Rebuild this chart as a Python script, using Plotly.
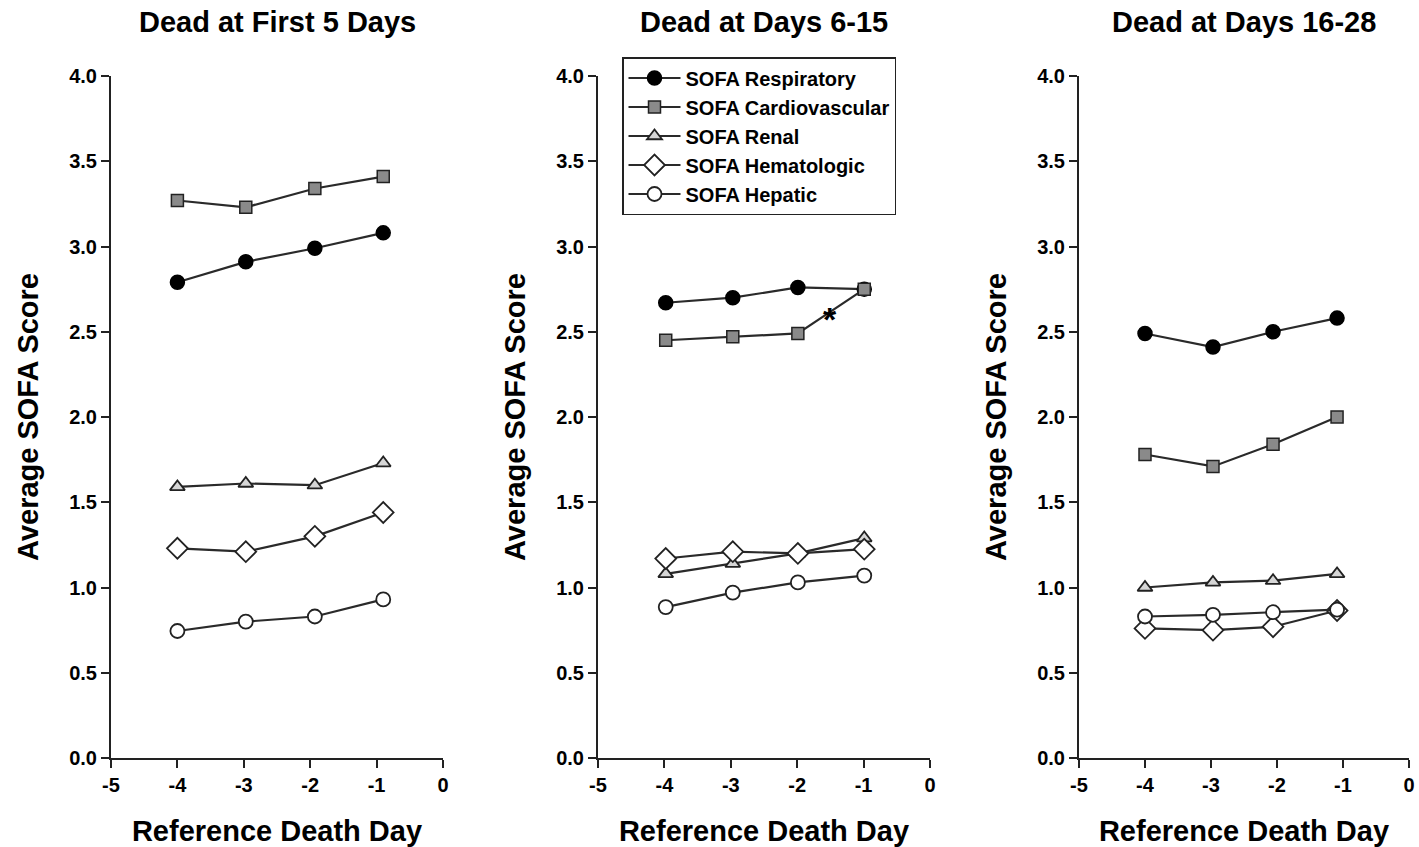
import plotly.graph_objects as go

# ---- data ----
panel_titles = ["Dead at First 5 Days", "Dead at Days 6-15", "Dead at Days 16-28"]
series_names = ["SOFA Respiratory", "SOFA Cardiovascular", "SOFA Renal",
                "SOFA Hematologic", "SOFA Hepatic"]

days_p1 = [-4, -2.97, -1.93, -0.9]
days_p2 = [-3.98, -2.97, -1.99, -0.99]
days_p3 = [-4, -2.97, -2.06, -1.09]

resp_p1 = [2.79, 2.91, 2.99, 3.08]
cardio_p1 = [3.27, 3.23, 3.34, 3.41]
renal_p1 = [1.59, 1.61, 1.60, 1.73]
hema_p1 = [1.23, 1.21, 1.30, 1.44]
hepa_p1 = [0.745, 0.80, 0.83, 0.93]

resp_p2 = [2.67, 2.70, 2.76, 2.75]
cardio_p2 = [2.45, 2.47, 2.49, 2.75]
renal_p2 = [1.08, 1.14, 1.20, 1.29]
hema_p2 = [1.17, 1.21, 1.20, 1.225]
hepa_p2 = [0.885, 0.97, 1.03, 1.07]

resp_p3 = [2.49, 2.41, 2.50, 2.58]
cardio_p3 = [1.78, 1.71, 1.84, 2.00]
renal_p3 = [1.00, 1.03, 1.04, 1.08]
hema_p3 = [0.76, 0.75, 0.77, 0.865]
hepa_p3 = [0.83, 0.84, 0.855, 0.87]

asterisk_x = -1.5
asterisk_y = 2.6

x_ticks = [-5, -4, -3, -2, -1, 0]
y_ticks = [0.0, 0.5, 1.0, 1.5, 2.0, 2.5, 3.0, 3.5, 4.0]

panels = [
    (days_p1, [resp_p1, cardio_p1, renal_p1, hema_p1, hepa_p1]),
    (days_p2, [resp_p2, cardio_p2, renal_p2, hema_p2, hepa_p2]),
    (days_p3, [resp_p3, cardio_p3, renal_p3, hema_p3, hepa_p3]),
]

# ---- styles ----
FONT = "Arial, Liberation Sans, sans-serif"
W, H = 1419, 847
marker_styles = [
    dict(symbol="circle", size=14, color="black", line=dict(color="black", width=1.5)),
    dict(symbol="square", size=12, color="#8a8a8a", line=dict(color="#222", width=1.5)),
    dict(symbol="triangle-up", size=13, color="#d6d6d6", line=dict(color="#222", width=1.8)),
    dict(symbol="diamond", size=16, color="white", line=dict(color="#222", width=1.8)),
    dict(symbol="circle", size=14, color="white", line=dict(color="#222", width=1.8)),
]

x_px = [(111, 443), (598, 930), (1079, 1409)]
y_top, y_bot = 76, 758

fig = go.Figure()
for i, (days, vals) in enumerate(panels):
    xa = "x" if i == 0 else f"x{i+1}"
    ya = "y" if i == 0 else f"y{i+1}"
    for j, v in enumerate(vals):
        fig.add_trace(go.Scatter(
            x=days, y=v, mode="lines+markers", name=series_names[j],
            line=dict(color="#2a2a2a", width=2.2),
            marker=marker_styles[j], xaxis=xa, yaxis=ya,
            showlegend=(i == 1), cliponaxis=False))

layout = dict(
    width=W, height=H, margin=dict(l=0, r=0, t=0, b=0),
    paper_bgcolor="white", plot_bgcolor="white",
    font=dict(family=FONT, color="black"),
    legend=dict(x=622 / W, y=1 - 57 / H, xanchor="left", yanchor="top",
                bordercolor="#222", borderwidth=1.5, bgcolor="white",
                font=dict(size=20, family=FONT, weight="bold"),
                itemwidth=52, tracegroupgap=0),
    annotations=[],
)
for i in range(3):
    sfx = "" if i == 0 else str(i + 1)
    x0, x1 = x_px[i]
    layout[f"xaxis{sfx}"] = dict(
        domain=[x0 / W, x1 / W], range=[-5, 0], tickvals=x_ticks,
        ticktext=[str(t) for t in x_ticks], automargin=False,
        showgrid=False, zeroline=False, showline=True, linecolor="#222", linewidth=2,
        ticks="outside", ticklen=8, tickwidth=2, tickcolor="#222",
        tickfont=dict(size=20, family=FONT, weight="bold"),
        title=dict(text="Reference Death Day", standoff=26,
                   font=dict(size=29, family=FONT, weight="bold")),
        anchor="y" if i == 0 else f"y{i+1}")
    layout[f"yaxis{sfx}"] = dict(
        domain=[1 - y_bot / H, 1 - y_top / H], range=[0, 4], tickvals=y_ticks,
        ticktext=[f"{t:.1f}" for t in y_ticks], automargin=False,
        showgrid=False, zeroline=False, showline=True, linecolor="#222", linewidth=2,
        ticks="outside", ticklen=8, tickwidth=2, tickcolor="#222",
        tickfont=dict(size=20, family=FONT, weight="bold"),
        title=dict(text="Average SOFA Score", standoff=22,
                   font=dict(size=29, family=FONT, weight="bold")),
        anchor="x" if i == 0 else f"x{i+1}")
    layout["annotations"].append(dict(
        text=f"<b>{panel_titles[i]}</b>", x=(x0 + x1) / 2 / W, y=1 - 22 / H,
        xref="paper", yref="paper", showarrow=False, xanchor="center", yanchor="middle",
        font=dict(size=29, family=FONT)))

layout["annotations"].append(dict(
    text="<b>*</b>", x=asterisk_x, y=asterisk_y, xref="x2", yref="y2",
    showarrow=False, font=dict(size=34, family=FONT), yshift=-4))

fig.update_layout(**layout)
fig.write_html("out.html")
